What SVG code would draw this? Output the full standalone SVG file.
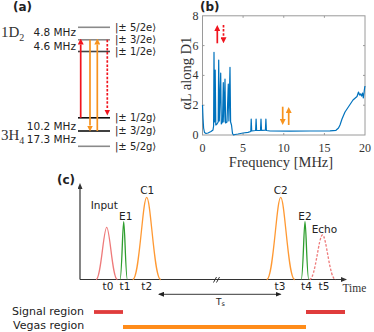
<svg xmlns="http://www.w3.org/2000/svg" width="374" height="332" viewBox="0 0 374 332">
<style>
.sans{font-family:"DejaVu Sans",Verdana,sans-serif;fill:#222}
.bold{font-family:"DejaVu Sans",Verdana,sans-serif;font-weight:bold;font-size:12px;fill:#222}
.serif{font-family:"Liberation Serif","Times New Roman",serif;fill:#333}
.mhz{font-size:10.5px;text-anchor:end}
.ket{font-size:10px}
.lvl{stroke-width:1.6;fill:none}
.arr{stroke-width:1.7;fill:none}
.dash{stroke-dasharray:2.5 1.6}
.box{stroke:#9a9a9a;stroke-width:1;fill:none}
.tick{font-size:12px}
.pl{font-size:10.5px}
.pulse{fill:none;stroke-width:1.3}
.ax{stroke:#333;stroke-width:1.2;fill:none}
</style>
<defs>
<marker id="hr" markerUnits="userSpaceOnUse" markerWidth="6" markerHeight="6" refX="0" refY="3" orient="auto"><path d="M0,0 L6,3 L0,6 z" fill="#f0141e"/></marker>
<marker id="ho" markerUnits="userSpaceOnUse" markerWidth="6" markerHeight="6" refX="0" refY="3" orient="auto"><path d="M0,0 L6,3 L0,6 z" fill="#f7931e"/></marker>
<marker id="hk" markerUnits="userSpaceOnUse" markerWidth="6" markerHeight="5" refX="0" refY="2.5" orient="auto"><path d="M0,0 L6,2.5 L0,5 z" fill="#333"/></marker>
<marker id="hs" markerUnits="userSpaceOnUse" markerWidth="6" markerHeight="5" refX="5" refY="2.5" orient="auto-start-reverse"><path d="M0,0 L6,2.5 L0,5 z" fill="#222"/></marker>
</defs>

<!-- Panel (a) -->
<g id="panel-a">
<text class="bold" x="13" y="11">(a)</text>
<text class="serif" x="1" y="37.3" font-size="15">1D<tspan font-size="10" dy="3.5">2</tspan></text>
<text class="serif" x="1" y="140" font-size="15">3H<tspan font-size="10" dy="3.5">4</tspan></text>
<text class="sans mhz" x="76" y="36">4.8 MHz</text>
<text class="sans mhz" x="76" y="49.5">4.6 MHz</text>
<text class="sans mhz" x="76" y="129.7">10.2 MHz</text>
<text class="sans mhz" x="76" y="142.7">17.3 MHz</text>
</g>
<g id="level-52e"><line class="lvl" x1="78" y1="27.3" x2="110" y2="27.3" stroke="#8a8a8a"/><text class="sans ket" x="115" y="30.5">|± 5/2e⟩</text></g>
<g id="level-32e"><line class="lvl" x1="78" y1="39.8" x2="110" y2="39.8" stroke="#8a8a8a"/><text class="sans ket" x="115" y="43">|± 3/2e⟩</text></g>
<g id="level-12e"><line class="lvl" x1="78" y1="51.5" x2="110" y2="51.5" stroke="#444"/><text class="sans ket" x="115" y="54.7">|± 1/2e⟩</text></g>
<g id="level-12g"><line class="lvl" x1="78" y1="117.8" x2="110" y2="117.8" stroke="#111"/><text class="sans ket" x="115" y="121">|± 1/2g⟩</text></g>
<g id="level-32g"><line class="lvl" x1="78" y1="131" x2="110" y2="131" stroke="#111"/><text class="sans ket" x="115" y="134.2">|± 3/2g⟩</text></g>
<g id="level-52g"><line class="lvl" x1="78" y1="146.3" x2="110" y2="146.3" stroke="#8a8a8a"/><text class="sans ket" x="115" y="149.5">|± 5/2g⟩</text></g>

<g id="connectors-a">
<line class="arr" x1="80.7" y1="117.8" x2="80.7" y2="44.5" stroke="#f0141e" marker-end="url(#hr)"/>
<line class="arr" x1="90" y1="39.8" x2="90" y2="125.5" stroke="#f7931e" marker-end="url(#ho)"/>
<line class="arr" x1="97.3" y1="131" x2="97.3" y2="44.5" stroke="#f7931e" marker-end="url(#ho)"/>
<line class="arr dash" x1="107.3" y1="39.8" x2="107.3" y2="109.5" stroke="#f0141e" marker-end="url(#hr)"/>
</g>

<!-- Panel (b) -->
<g id="panel-b">
<text class="bold" x="200" y="10.5" font-size="11.5">(b)</text>
<rect class="box" x="202.5" y="15.8" width="162.5" height="119.2"/>
<path stroke="#9a9a9a" stroke-width="1" d="M243.1,135v-2M283.75,135v-2M324.4,135v-2M243.1,15.8v2M283.75,15.8v2M324.4,15.8v2M202.5,105.2h2M202.5,75.4h2M202.5,45.6h2M365,105.2h-2M365,75.4h-2M365,45.6h-2"/>
<g class="serif tick" text-anchor="end">
<text x="198.5" y="139">0</text><text x="198.5" y="109.2">2</text><text x="198.5" y="79.4">4</text><text x="198.5" y="49.6">6</text><text x="198.5" y="19.8">8</text>
</g>
<g class="serif tick" text-anchor="middle">
<text x="202.5" y="151.7">0</text><text x="243.1" y="151.7">5</text><text x="283.75" y="151.7">10</text><text x="324.4" y="151.7">15</text><text x="365" y="151.7">20</text>
</g>
<text class="serif" x="281" y="166.7" font-size="14.5" text-anchor="middle">Frequency [MHz]</text>
<text class="serif" font-size="14.5" text-anchor="middle" transform="translate(191,73.3) rotate(-90)">αL along D1</text>
<polyline fill="none" stroke="#0072bd" stroke-width="1.2" stroke-linejoin="round" points="202.5,105 203,118 203.6,128 204.5,132.5 206,133.5 208,133 211,131.5 213,130 213.6,126 214,52.3 214.5,122 215.2,70 215.8,125 217,124 218.2,122 218.7,60 219.3,121 220.7,73 221.3,124 222.5,122 223.3,82.7 223.9,122 225,79 225.6,123 227,122 228.3,84 228.9,121 230,67.3 230.6,122 231.5,125 232.5,133.5 233.5,135 235,134.5 238,134 243,133 248,132.3 250.8,131.5 251.2,119 251.7,131 255.6,130.5 256.1,119 256.6,130.5 260.5,130.3 261,119 261.5,130.3 265.4,130.2 265.9,119 266.4,130.5 270,131 290,131.2 310,131 330,130.8 336,130.3 338.5,128 340,125 342,119 345,112 349,106 353,100 357,96.5 358.5,92 359.5,95 360.5,94 361.5,96 362.5,93 363.3,98 364,93 364.6,88 365,86"/>
</g>
<g id="connectors-b">
<line class="arr" x1="217.3" y1="43.3" x2="217.3" y2="31" stroke="#f0141e" marker-end="url(#hr)"/>
<line class="arr dash" x1="223.5" y1="25" x2="223.5" y2="37.3" stroke="#f0141e" marker-end="url(#hr)"/>
<line class="arr" x1="282.7" y1="106.7" x2="282.7" y2="119" stroke="#f7931e" marker-end="url(#ho)"/>
<line class="arr" x1="288.7" y1="125" x2="288.7" y2="113" stroke="#f7931e" marker-end="url(#ho)"/>
</g>

<!-- Panel (c) -->
<g id="panel-c">
<text class="bold" x="57" y="183.5">(c)</text>
<line class="ax" x1="80" y1="279.5" x2="80" y2="189" marker-end="url(#hk)"/>
<line class="ax" x1="80" y1="279.5" x2="341" y2="279.5" marker-end="url(#hk)"/>
<path d="M213.5,282.5 L216.5,277 M216.5,282.5 L219.5,277" stroke="#333" stroke-width="1" fill="none"/>
<text class="serif" x="342.5" y="291.5" font-size="11.5" fill="#333">Time</text>
</g>
<g id="pulse-input"><path class="pulse" stroke="#ee7a7a" d="M96,279.5 C101,279.5 103.5,227.3 106.7,227.3 C109.9,227.3 112.3,279.5 117.4,279.5"/><text class="sans pl" x="90.7" y="208.5">Input</text><text class="sans pl" x="108" y="290" text-anchor="middle">t0</text></g>
<g id="pulse-e1"><path class="pulse" stroke="#2e9e2e" d="M120,279.5 C121.8,279.5 122.6,221.7 123.7,221.7 C124.8,221.7 125.6,279.5 127.4,279.5"/><text class="sans pl" x="119" y="220">E1</text><text class="sans pl" x="125" y="290" text-anchor="middle">t1</text></g>
<g id="pulse-c1"><path class="pulse" stroke="#ff9933" d="M132.7,279.5 C139.5,279.5 142.5,197.3 146.7,197.3 C150.9,197.3 153.9,279.5 160.7,279.5"/><text class="sans pl" x="147.3" y="194" text-anchor="middle">C1</text><text class="sans pl" x="146.7" y="290" text-anchor="middle">t2</text></g>
<g id="pulse-c2"><path class="pulse" stroke="#ff9933" d="M266.7,279.5 C273.5,279.5 276.5,197.3 280.7,197.3 C284.9,197.3 287.9,279.5 294.7,279.5"/><text class="sans pl" x="280.7" y="194" text-anchor="middle">C2</text><text class="sans pl" x="280" y="290" text-anchor="middle">t3</text></g>
<g id="pulse-e2"><path class="pulse" stroke="#2e9e2e" d="M301.2,279.5 C303.1,279.5 303.9,221.7 305,221.7 C306.1,221.7 306.9,279.5 308.8,279.5"/><text class="sans pl" x="305" y="220" text-anchor="middle">E2</text><text class="sans pl" x="306.5" y="290" text-anchor="middle">t4</text></g>
<g id="pulse-echo"><path class="pulse dash" stroke="#ee7a7a" d="M309.5,279.5 C315.5,279.5 318.6,235 322.5,235 C326.4,235 329.5,279.5 335.5,279.5"/><text class="sans pl" x="311.7" y="232.7">Echo</text><text class="sans pl" x="324" y="290" text-anchor="middle">t5</text></g>

<g id="connectors-c">
<line x1="159" y1="294.3" x2="280.5" y2="294.3" stroke="#222" stroke-width="0.9" marker-start="url(#hs)" marker-end="url(#hs)"/>
</g>
<text class="sans" x="216" y="304.5" font-size="9">T<tspan font-size="6.5" dy="1.5">s</tspan></text>

<g id="regions">
<text class="sans" x="12" y="314.5" font-size="11">Signal region</text>
<text class="sans" x="13" y="329" font-size="11">Vegas region</text>
<line x1="94" y1="312" x2="123" y2="312" stroke="#e03c3c" stroke-width="3.8"/>
<line x1="306" y1="312" x2="345" y2="312" stroke="#e03c3c" stroke-width="3.8"/>
<line x1="123" y1="327" x2="306" y2="327" stroke="#ff8c1a" stroke-width="3.8"/>
</g>
</svg>
